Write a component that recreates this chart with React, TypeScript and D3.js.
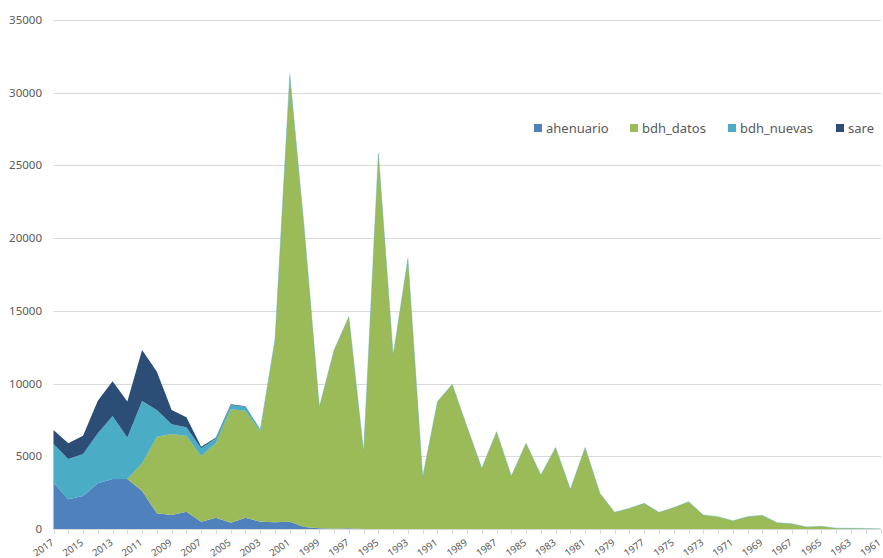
import { useMemo } from 'react'
import { scaleLinear, scalePoint, stack, area, stackOrderNone, stackOffsetNone } from 'd3'

const years = [
  2017, 2016, 2015, 2014, 2013, 2012, 2011, 2010, 2009, 2008, 2007, 2006, 2005, 2004, 2003,
  2002, 2001, 2000, 1999, 1998, 1997, 1996, 1995, 1994, 1993, 1992, 1991, 1990, 1989, 1988,
  1987, 1986, 1985, 1984, 1983, 1982, 1981, 1980, 1979, 1978, 1977, 1976, 1975, 1974, 1973,
  1972, 1971, 1970, 1969, 1968, 1967, 1966, 1965, 1964, 1963, 1962, 1961,
]

const ahenuario = [
  3180, 2040, 2270, 3140, 3440, 3440, 2610, 1080, 960, 1190, 505, 780, 435, 780, 505,
  460, 505, 140, 45, 20, 60, 0, 0, 0, 0, 0, 0, 0, 0, 0,
  0, 0, 0, 0, 0, 0, 0, 0, 0, 0, 0, 0, 0, 0, 0,
  0, 0, 0, 0, 0, 0, 0, 0, 0, 0, 0, 0,
]

const bdhDatos = [
  0, 0, 0, 0, 0, 0, 1905, 5270, 5570, 5230, 4515, 5140, 7795, 7355, 6235,
  12540, 30600, 20300, 8350, 12290, 14540, 5315, 25830, 11960, 18610, 3600, 8760, 9950, 7030, 4170,
  6690, 3645, 5890, 3710, 5610, 2725, 5610, 2450, 1145, 1420, 1765, 1145, 1470, 1880, 960,
  850, 575, 850, 940, 435, 365, 140, 185, 60, 50, 40, 10,
]

const bdhNuevas = [
  2665, 2770, 2885, 3440, 4330, 2860, 4285, 1830, 670, 570, 530, 320, 300, 275, 110,
  50, 200, 0, 0, 0, 0, 0, 0, 0, 0, 0, 0, 0, 0, 0,
  0, 0, 0, 0, 0, 0, 0, 0, 0, 0, 0, 0, 0, 0, 0,
  0, 0, 0, 0, 0, 0, 0, 0, 0, 0, 0, 0,
]

const sare = [
  960, 1080, 1265, 2240, 2385, 2460, 3510, 2640, 980, 690, 110, 50, 40, 30, 0,
  0, 0, 0, 0, 0, 0, 0, 0, 0, 0, 0, 0, 0, 0, 0,
  0, 0, 0, 0, 0, 0, 0, 0, 0, 0, 0, 0, 0, 0, 0,
  0, 0, 0, 0, 0, 0, 0, 0, 0, 0, 0, 0,
]

const seriesNames = ['ahenuario', 'bdh_datos', 'bdh_nuevas', 'sare']
const seriesColors = ['#4f81bd', '#9bbb59', '#4bacc6', '#2c4d75']
const yTicks = [0, 5000, 10000, 15000, 20000, 25000, 30000, 35000]

const W = 883
const H = 558
const FONT = '"Noto Sans", sans-serif'

export default function App() {
  const { layers, x, y, areaGen } = useMemo(() => {
    const cols = [ahenuario, bdhDatos, bdhNuevas, sare]
    const rows = years.map((yr, i) => {
      const r: Record<string, number> = { year: yr }
      seriesNames.forEach((n, k) => (r[n] = cols[k][i]))
      return r
    })
    const layers = stack<Record<string, number>>()
      .keys(seriesNames)
      .order(stackOrderNone)
      .offset(stackOffsetNone)(rows)
    const x = scalePoint<number>().domain(years).range([53.5, 880.5])
    const y = scaleLinear().domain([0, 35000]).range([529, 20])
    const areaGen = area<any>()
      .x((d) => x(d.data.year) as number)
      .y0((d) => y(d[0]))
      .y1((d) => y(d[1]))
    return { layers, x, y, areaGen }
  }, [])

  const legendX = [534, 630, 728, 836]

  return (
    <div style={{ position: 'absolute', left: 0, top: 0 }}>
      <svg width={W} height={H} style={{ display: 'block', background: '#fff' }}>
        {yTicks.map((t) => (
          <g key={t}>
            <line x1={53.5} x2={881} y1={Math.round(y(t)) + 0.5} y2={Math.round(y(t)) + 0.5} stroke="#d9d9d9" />
            <text
              x={42}
              y={y(t)}
              dy="0.35em"
              textAnchor="end"
              fontFamily={FONT}
              fontSize={11.5}
              fill="#595959"
            >
              {t}
            </text>
          </g>
        ))}
        {layers.map((l, i) => (
          <path
            key={l.key}
            d={areaGen(l) ?? ''}
            fill={seriesColors[i]}
            stroke={i === 2 ? seriesColors[2] : 'none'}
            strokeOpacity={0.35}
            strokeWidth={0.6}
          />
        ))}
        <line x1={53.5} x2={881} y1={529.5} y2={529.5} stroke="#d9d9d9" />
        {years.map((yr) => (
          <line
            key={yr}
            x1={Math.round(x(yr) as number) + 0.5}
            x2={Math.round(x(yr) as number) + 0.5}
            y1={529.5}
            y2={534}
            stroke="#d9d9d9"
          />
        ))}
        {years
          .filter((_, i) => i % 2 === 0)
          .map((yr) => (
            <text
              key={yr}
              transform={`translate(${(x(yr) as number) + 1},${544}) rotate(-35)`}
              textAnchor="end"
              fontFamily={FONT}
              fontSize={9.8}
              fill="#595959"
            >
              {yr}
            </text>
          ))}
        {seriesNames.map((n, i) => (
          <g key={n} transform={`translate(${legendX[i]},124)`}>
            <rect width={8} height={8} fill={seriesColors[i]} />
            <text x={12} y={4} dy="0.35em" fontFamily={FONT} fontSize={13} fill="#595959">
              {n}
            </text>
          </g>
        ))}
      </svg>
    </div>
  )
}
